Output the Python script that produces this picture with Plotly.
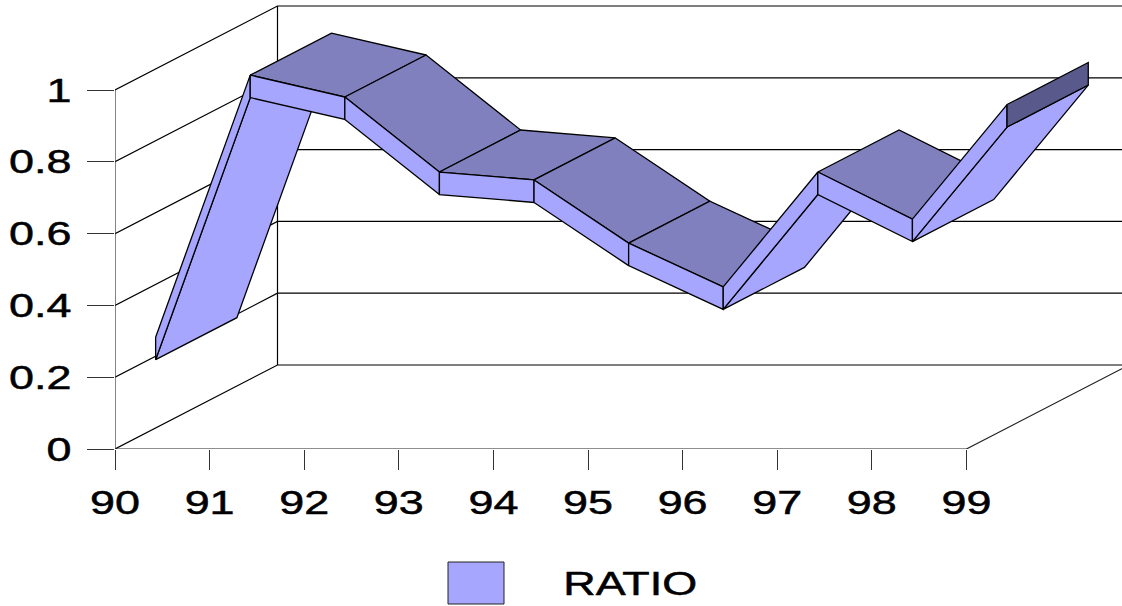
import plotly.graph_objects as go

years = ["90", "91", "92", "93", "94", "95", "96", "97", "98", "99"]
ratio = [0.253, 0.983, 0.922, 0.713, 0.691, 0.515, 0.393, 0.713, 0.582, 0.901]
y_ticks = [0, 0.2, 0.4, 0.6, 0.8, 1]
y_labels = ["0", "0.2", "0.4", "0.6", "0.8", "1"]
series_name = "RATIO"

W, H = 1122, 606
PX_X = 94.6      # pixels per category
PX_Y = 359.0     # pixels per unit of value
LEFT, FLOOR = 115, 449
DEPTH_X = 162.5 / PX_X   # full depth of the box, in axis units
DEPTH_Y = 84.0 / PX_Y
FRONT, BACK = 0.25, 0.75  # ribbon position inside the depth
THICK = 22.5 / PX_Y       # ribbon thickness

LIGHT, MID, DARK = "#A6A6FF", "#8080BF", "#59598C"
INK = "#000000"
FONT = "Liberation Sans"
FONT_SIZE = 33
TEXT_STRETCH = 1.36


def proj(i, v, d):
    return i + d * DEPTH_X, v + d * DEPTH_Y


fig = go.Figure()


def wire(points, color=INK):
    fig.add_trace(go.Scatter(x=[p[0] for p in points], y=[p[1] for p in points], mode="lines",
                             line=dict(color=color, width=1.2), hoverinfo="skip",
                             showlegend=False, cliponaxis=False))


def face(points, color):
    pts = points + [points[0]]
    fig.add_trace(go.Scatter(x=[p[0] for p in pts], y=[p[1] for p in pts], mode="lines", fill="toself",
                             fillcolor=color, line=dict(color="#000000", width=1.3), hoverinfo="skip",
                             showlegend=False, cliponaxis=False))


n = len(years)
# walls and floor
for t in y_ticks:
    wire([proj(0, t, 0), proj(0, t, 1), proj(n + 1, t, 1)])
wire([proj(0, 0, 1), proj(0, max(y_ticks), 1)])
wire([proj(0, 0, 0), proj(0, max(y_ticks), 0)], "#333333")
wire([proj(0, 0, 0), proj(n - 1, 0, 0), proj(n - 1, 0, 1)], "#222222")

# ribbon, painted left to right
for i in range(n - 1):
    a, b = ratio[i], ratio[i + 1]
    ft0, ft1 = proj(i, a, FRONT), proj(i + 1, b, FRONT)
    bt0, bt1 = proj(i, a, BACK), proj(i + 1, b, BACK)
    fb0, fb1 = proj(i, a - THICK, FRONT), proj(i + 1, b - THICK, FRONT)
    bb0, bb1 = proj(i, a - THICK, BACK), proj(i + 1, b - THICK, BACK)
    top_visible = (DEPTH_Y - (b - a) * DEPTH_X) > 0
    if top_visible:
        face([ft0, ft1, bt1, bt0], MID)
    else:
        face([fb0, fb1, bb1, bb0], LIGHT)
    face([ft0, ft1, fb1, fb0], LIGHT)

last = n - 1
face([proj(last, ratio[last], FRONT), proj(last, ratio[last], BACK),
      proj(last, ratio[last] - THICK, BACK), proj(last, ratio[last] - THICK, FRONT)], DARK)

plot_w = W - LEFT
plot_h = FLOOR - 5
fig.update_layout(
    width=W, height=H, paper_bgcolor="white", plot_bgcolor="white", showlegend=False,
    margin=dict(l=LEFT, r=0, t=5, b=H - FLOOR, pad=0),
    font=dict(family=FONT, size=FONT_SIZE, color="black"),
    xaxis=dict(range=[0, plot_w / PX_X], tickmode="array", tickvals=list(range(n)), ticktext=years,
               ticks="outside", ticklen=20, tickcolor="#333333", tickwidth=1, showgrid=False,
               zeroline=False, showline=False, ticklabelstandoff=4, fixedrange=True),
    yaxis=dict(range=[0, plot_h / PX_Y], tickmode="array", tickvals=y_ticks, ticktext=y_labels,
               ticks="outside", ticklen=27, tickcolor="#333333", tickwidth=1, showgrid=False,
               zeroline=False, showline=False, ticklabelstandoff=9, fixedrange=True),
    shapes=[dict(type="rect", xref="paper", yref="paper",
                 x0=(448 - LEFT) / plot_w, x1=(504 - LEFT) / plot_w,
                 y0=(FLOOR - 604) / plot_h, y1=(FLOOR - 562) / plot_h,
                 fillcolor=LIGHT, line=dict(color="#222222", width=1))],
    annotations=[dict(text=series_name, xref="paper", yref="paper",
                      x=(629.5 - LEFT) / plot_w, y=(FLOOR - 583) / plot_h,
                      showarrow=False, xanchor="center", yanchor="middle",
                      font=dict(family=FONT, size=FONT_SIZE, color="black"))],
)
post = """
document.body.style.margin = '0';
var gd = document.querySelector('.plotly-graph-div');
gd.querySelectorAll('.xtick text, .ytick text, .annotation-text').forEach(function (t) {
  t.setAttribute('textLength', t.getComputedTextLength() * %s);
  t.setAttribute('lengthAdjust', 'spacingAndGlyphs');
  t.style.stroke = 'black';
  t.style.strokeWidth = '0.5px';
});
""" % TEXT_STRETCH
fig.write_html("out.html", config={"displayModeBar": False}, post_script=post)
